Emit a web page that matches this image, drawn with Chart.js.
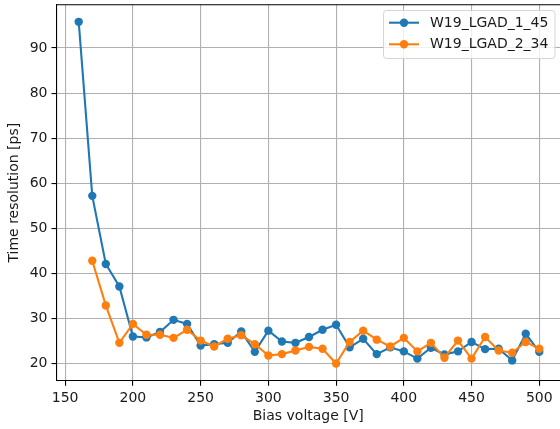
<!DOCTYPE html>
<html>
<head>
<meta charset="utf-8">
<script src="https://cdn.jsdelivr.net/npm/chart.js@4/dist/chart.umd.min.js"></script>
<style>
  html, body { margin: 0; padding: 0; background: #ffffff; }
  #wrap { width: 560px; height: 429px; }
</style>
</head>
<body>
<div id="wrap"><canvas id="c" width="560" height="429"></canvas></div>
<script>
// Bias scan of two LGAD sensors: time resolution vs. bias voltage
const seriesNames = ['W19_LGAD_1_45', 'W19_LGAD_2_34'];

const biasSensor1 = [160, 170, 180, 190, 200, 210, 220, 230, 240, 250, 260, 270, 280, 290, 300,
                     310, 320, 330, 340, 350, 360, 370, 380, 390, 400, 410, 420, 430, 440, 450,
                     460, 470, 480, 490, 500];
const resSensor1  = [95.8, 57.2, 42.1, 37.1, 26.0, 25.8, 27.0, 29.7, 28.8, 24.0, 24.3, 24.6, 27.1, 22.6, 27.3,
                     24.9, 24.6, 25.9, 27.5, 28.6, 23.6, 25.5, 22.1, 23.6, 22.7, 21.1, 23.5, 22.0, 22.7, 24.8,
                     23.2, 23.3, 20.7, 26.6, 22.6];

const biasSensor2 = [170, 180, 190, 200, 210, 220, 230, 240, 250, 260, 270, 280, 290, 300,
                     310, 320, 330, 340, 350, 360, 370, 380, 390, 400, 410, 420, 430, 440, 450,
                     460, 470, 480, 490, 500];
const resSensor2  = [42.8, 32.9, 24.6, 28.8, 26.4, 26.4, 25.7, 27.5, 25.1, 23.8, 25.5, 26.3, 24.3, 21.8,
                     22.1, 22.9, 23.7, 23.3, 20.0, 24.8, 27.3, 25.3, 23.8, 25.7, 22.7, 24.6, 21.3, 25.1, 21.1,
                     25.9, 22.9, 22.4, 24.8, 23.3];

const xTickValues = [150, 200, 250, 300, 350, 400, 450, 500];
const yTickValues = [20, 30, 40, 50, 60, 70, 80, 90];

const xTitle = 'Bias voltage [V]';
const yTitle = 'Time resolution [ps]';

const COLORS = ['#1f77b4', '#ff7f0e'];
const FONT = { family: '"DejaVu Sans", sans-serif', size: 14 };
const TEXT = '#1a1a1a';
const LINE_W = 2.1;
const MARK_R = 4.2;

function toPoints(xs, ys) { return xs.map((x, i) => ({ x: x, y: ys[i] })); }

// top frame line (matplotlib-style box) and legend drawn in the plot corner
const frameAndLegend = {
  id: 'frameAndLegend',
  afterDatasetsDraw(chart) {
    const ctx = chart.ctx;
    const a = chart.chartArea;
    ctx.save();
    ctx.strokeStyle = '#000';
    ctx.lineWidth = 1.1;
    ctx.beginPath();
    ctx.moveTo(a.left - 0.5, a.top);
    ctx.lineTo(a.right, a.top);
    ctx.stroke();

    // legend box
    const bx = 383.5, by = 10.5, bw = 171.5, bh = 48, r = 3;
    ctx.beginPath();
    ctx.moveTo(bx + r, by);
    ctx.lineTo(bx + bw - r, by);
    ctx.quadraticCurveTo(bx + bw, by, bx + bw, by + r);
    ctx.lineTo(bx + bw, by + bh - r);
    ctx.quadraticCurveTo(bx + bw, by + bh, bx + bw - r, by + bh);
    ctx.lineTo(bx + r, by + bh);
    ctx.quadraticCurveTo(bx, by + bh, bx, by + bh - r);
    ctx.lineTo(bx, by + r);
    ctx.quadraticCurveTo(bx, by, bx + r, by);
    ctx.closePath();
    ctx.fillStyle = 'rgba(255,255,255,0.8)';
    ctx.fill();
    ctx.strokeStyle = 'rgba(204,204,204,0.8)';
    ctx.lineWidth = 1;
    ctx.stroke();

    const rows = [22.7, 44.3];
    chart.data.datasets.forEach((ds, i) => {
      const y = rows[i];
      ctx.strokeStyle = ds.borderColor;
      ctx.lineWidth = LINE_W;
      ctx.beginPath();
      ctx.moveTo(389, y);
      ctx.lineTo(419, y);
      ctx.stroke();
      ctx.fillStyle = ds.borderColor;
      ctx.beginPath();
      ctx.arc(404, y, MARK_R, 0, Math.PI * 2);
      ctx.fill();
      ctx.fillStyle = TEXT;
      ctx.font = `${FONT.size}px ${FONT.family}`;
      ctx.textAlign = 'left';
      ctx.textBaseline = 'middle';
      ctx.fillText(ds.label, 430, y + 0.5);
    });
    ctx.restore();
  }
};

new Chart(document.getElementById('c'), {
  type: 'line',
  data: {
    datasets: [
      {
        label: seriesNames[0],
        data: toPoints(biasSensor1, resSensor1),
        borderColor: COLORS[0],
        backgroundColor: COLORS[0],
        borderWidth: LINE_W,
        pointRadius: MARK_R,
        pointBorderWidth: 0,
        pointBackgroundColor: COLORS[0],
        tension: 0,
        order: 1
      },
      {
        label: seriesNames[1],
        data: toPoints(biasSensor2, resSensor2),
        borderColor: COLORS[1],
        backgroundColor: COLORS[1],
        borderWidth: LINE_W,
        pointRadius: MARK_R,
        pointBorderWidth: 0,
        pointBackgroundColor: COLORS[1],
        tension: 0,
        order: 0
      }
    ]
  },
  options: {
    responsive: false,
    animation: false,
    devicePixelRatio: 1,
    layout: { autoPadding: false, padding: { top: 4.7, right: 0, bottom: 0, left: 0 } },
    plugins: {
      legend: { display: false },
      tooltip: { enabled: false }
    },
    scales: {
      x: {
        type: 'linear',
        min: 143.6,
        max: 515.3,
        afterFit(scale) {
          scale.height = 48.3;
          scale.paddingLeft = 0;
          scale.paddingRight = 0;
        },
        afterBuildTicks(scale) { scale.ticks = xTickValues.map(v => ({ value: v })); },
        grid: { color: '#b0b0b0', lineWidth: 1.1, tickColor: '#000', tickLength: 5, drawTicks: true },
        border: { display: true, color: '#000', width: 1.1 },
        ticks: { color: TEXT, font: FONT, padding: 4, maxRotation: 0, autoSkip: false,
                 callback: v => String(v) },
        title: { display: true, text: xTitle, color: TEXT, font: FONT, padding: { top: 0, bottom: 4 } }
      },
      y: {
        type: 'linear',
        min: 16.2,
        max: 99.6,
        afterFit(scale) {
          scale.width = 56.5;
          scale.paddingTop = 0;
          scale.paddingBottom = 0;
        },
        afterBuildTicks(scale) { scale.ticks = yTickValues.map(v => ({ value: v })); },
        grid: { color: '#b0b0b0', lineWidth: 1.1, tickColor: '#000', tickLength: 5, drawTicks: true },
        border: { display: true, color: '#000', width: 1.1 },
        ticks: { color: TEXT, font: FONT, padding: 4, autoSkip: false, callback: v => String(v) },
        title: { display: true, text: yTitle, color: TEXT, font: FONT, padding: { top: 5.6, bottom: 0 } }
      }
    }
  },
  plugins: [frameAndLegend]
});
</script>
</body>
</html>
